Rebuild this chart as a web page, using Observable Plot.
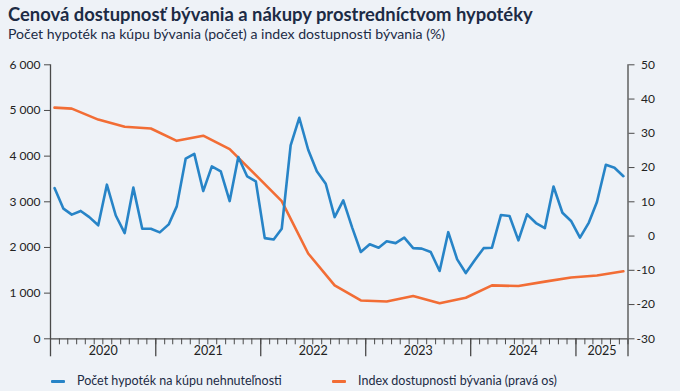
<!DOCTYPE html>
<html>
<head>
<meta charset="utf-8">
<script src="https://cdn.jsdelivr.net/npm/d3@7"></script>
<script src="https://cdn.jsdelivr.net/npm/@observablehq/plot@0.6"></script>
<style>
  html, body { margin: 0; padding: 0; background: #eef2f7; }
  body { width: 680px; height: 391px; position: relative; overflow: hidden; font-family: Lato, "Noto Sans", sans-serif; }
  #title { position: absolute; left: 8px; top: 3px; font-size: 18.4px; font-weight: 700; color: #1c2b45; line-height: 22px; white-space: nowrap; }
  #subtitle { position: absolute; left: 8px; top: 25px; font-size: 14.1px; color: #1c2b45; line-height: 17px; white-space: nowrap; }
  #chart { position: absolute; left: 0; top: 0; }
  #legend { position: absolute; left: 0; top: 373px; font-size: 12.5px; color: #1c2b45; line-height: 16px; white-space: nowrap; }
  .item { position: absolute; top: 0; display: flex; align-items: center; }
  .sw { width: 14px; height: 3px; margin-right: 12px; border-radius: 1px; }
</style>
</head>
<body>
<div id="chart"></div>
<div id="title">Cenová dostupnosť bývania a nákupy prostredníctvom hypotéky</div>
<div id="subtitle">Počet hypoték na kúpu bývania (počet) a index dostupnosti bývania (%)</div>
<div id="legend"></div>
<script>
// ---- data ----
const seriesNames = ["Počet hypoték na kúpu nehnuteľnosti", "Index dostupnosti bývania (pravá os)"];
const seriesColors = ["#2784c7", "#f26d35"];

// monthly mortgages, Jan 2020 .. Jun 2025
const mortgageStart = "2020-01";
const mortgages = [
  3300, 2850, 2720, 2800, 2665, 2485, 3375, 2700, 2315, 3310, 2410, 2410,
  2330, 2505, 2900, 3945, 4050, 3235, 3775, 3665, 3015, 3980, 3555, 3445,
  2205, 2175, 2410, 4235, 4840, 4140, 3670, 3395, 2665, 3030, 2435, 1900,
  2070, 1995, 2135, 2095, 2215, 1985, 1975, 1900, 1485, 2335, 1740, 1440,
  1720, 1985, 1995, 2710, 2690, 2155, 2725, 2535, 2425, 3335, 2760, 2580,
  2215, 2545, 2995, 3810, 3745, 3560
];

// affordability index (right axis, %)
const indexMonths = [
  "2020-01", "2020-03", "2020-06", "2020-09", "2020-12",
  "2021-03", "2021-06", "2021-09", "2021-12",
  "2022-03", "2022-06", "2022-09", "2022-12",
  "2023-03", "2023-06", "2023-09", "2023-12",
  "2024-03", "2024-06", "2024-09", "2024-12",
  "2025-03", "2025-06"
];
const indexValues = [
  37.5, 37.2, 34.0, 31.9, 31.4,
  27.8, 29.3, 25.4, 17.8,
  10.2, -5.1, -14.4, -18.8,
  -19.1, -17.5, -19.6, -18.0,
  -14.4, -14.6, -13.3, -12.1,
  -11.5, -10.3
];

const leftTicks = [0, 1000, 2000, 3000, 4000, 5000, 6000];
const rightTicks = [-30, -20, -10, 0, 10, 20, 30, 40, 50];
const yearLabels = ["2020", "2021", "2022", "2023", "2024", "2025"];

// ---- build ----
const parseMonth = d3.utcParse("%Y-%m");
const midMonth = d => d3.utcDay.offset(d, 14);
const xStart = parseMonth("2020-01");
const xEnd = parseMonth("2025-07");

const start = parseMonth(mortgageStart);
const blue = mortgages.map((v, i) => ({date: midMonth(d3.utcMonth.offset(start, i)), value: v}));

// right axis mapping: -30..50 -> 0..6000
const rMin = -30, rMax = 50, lMax = 6000;
const toLeft = v => (v - rMin) / (rMax - rMin) * lMax;
const fromLeft = v => v / lMax * (rMax - rMin) + rMin;
const orange = indexMonths.map((m, i) => ({date: midMonth(parseMonth(m)), value: toLeft(indexValues[i])}));

const monthTicks = d3.utcMonth.range(xStart, d3.utcMonth.offset(xEnd, 1));
const yearTicks = d3.utcYear.range(xStart, xEnd).concat([xEnd]);
const yearMid = yearLabels.map(y => {
  const a = d3.utcParse("%Y")(y);
  const b = d3.min([d3.utcYear.offset(a, 1), xEnd]);
  return {label: y, date: new Date((+a + +b) / 2)};
});

const fmtLeft = d => d3.format(",")(d).replace(/,/g, " ");
const axisColor = "#4a4a4a";

const chart = Plot.plot({
  width: 680,
  height: 391,
  marginLeft: 50,
  marginRight: 52.5,
  marginTop: 64.3,
  marginBottom: 52.7,
  style: {background: "transparent", fontFamily: "Lato, 'Noto Sans', sans-serif", fontSize: "12px", color: "#222"},
  x: {type: "utc", domain: [xStart, xEnd]},
  y: {domain: [0, lMax]},
  marks: [
    Plot.axisY({anchor: "left", ticks: leftTicks, tickSize: 6, tickPadding: 4, tickFormat: fmtLeft, label: null, stroke: axisColor, fill: "#222"}),
    Plot.axisY({anchor: "right", ticks: rightTicks.map(toLeft), tickSize: 6, tickPadding: 21, tickFormat: d => String(Math.round(fromLeft(d))), textAnchor: "end", label: null, stroke: axisColor, fill: "#222"}),
    Plot.axisX({ticks: monthTicks, tickSize: 6, tickFormat: () => "", label: null, stroke: axisColor}),
    Plot.axisX({ticks: yearTicks, tickSize: 18, tickFormat: () => "", label: null, stroke: axisColor, strokeWidth: 1.3}),
    Plot.text(yearMid, {x: "date", text: "label", frameAnchor: "bottom", dy: 16, fill: "#222", fontSize: 12.5}),
    Plot.ruleY([0], {stroke: axisColor, strokeWidth: 1.3}),
    Plot.ruleX([xStart], {y1: 0, y2: lMax, stroke: axisColor, strokeWidth: 1.3}),
    Plot.ruleX([xEnd], {y1: 0, y2: lMax, stroke: axisColor, strokeWidth: 1.3}),
    Plot.line(orange, {x: "date", y: "value", stroke: seriesColors[1], strokeWidth: 2.6}),
    Plot.line(blue, {x: "date", y: "value", stroke: seriesColors[0], strokeWidth: 2.6})
  ]
});
document.getElementById("chart").appendChild(chart);

// legend
const legendX = [[51, 77], [332, 358]];
const legend = document.getElementById("legend");
seriesNames.forEach((name, i) => {
  const item = document.createElement("div");
  item.className = "item";
  item.style.left = legendX[i][0] + "px";
  const sw = document.createElement("span");
  sw.className = "sw";
  sw.style.background = seriesColors[i];
  const t = document.createElement("span");
  t.textContent = name;
  item.appendChild(sw);
  item.appendChild(t);
  legend.appendChild(item);
});
</script>
</body>
</html>
